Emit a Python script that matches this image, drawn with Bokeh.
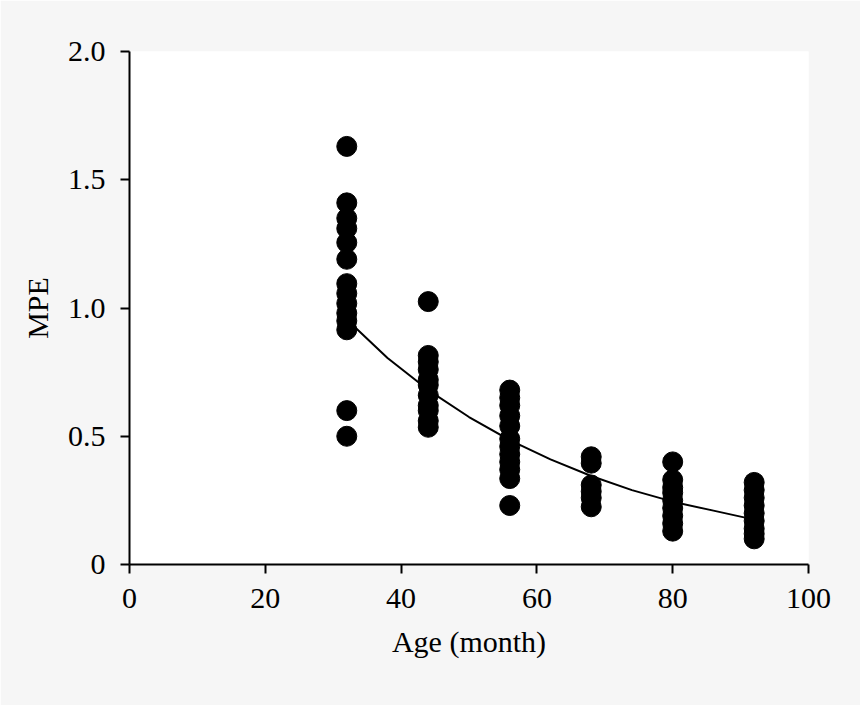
from bokeh.plotting import figure
from bokeh.models import Range1d, FixedTicker, ColumnDataSource
from bokeh.embed import file_html
from bokeh.resources import INLINE

# Scatter data: age (month) and MPE values
age_32 = [1.63, 1.41, 1.35, 1.31, 1.255, 1.19, 1.095, 1.057, 1.018, 0.98, 0.95, 0.915, 0.60, 0.50]
age_44 = [1.025, 0.815, 0.79, 0.76, 0.72, 0.70, 0.66, 0.62, 0.60, 0.56, 0.535]
age_56 = [0.68, 0.65, 0.62, 0.58, 0.54, 0.49, 0.46, 0.43, 0.40, 0.37, 0.335, 0.23]
age_68 = [0.42, 0.395, 0.31, 0.285, 0.26, 0.225]
age_80 = [0.40, 0.33, 0.30, 0.28, 0.25, 0.22, 0.19, 0.16, 0.13]
age_92 = [0.32, 0.29, 0.26, 0.23, 0.20, 0.17, 0.14, 0.12, 0.10]
groups = [(32, age_32), (44, age_44), (56, age_56), (68, age_68), (80, age_80), (92, age_92)]

# Fitted trend curve
curve_x = [32, 38, 44, 50, 56, 62, 68, 74, 80, 86, 92]
curve_y = [0.955, 0.805, 0.68, 0.575, 0.485, 0.41, 0.345, 0.29, 0.245, 0.21, 0.175]

x_ticks = [0, 20, 40, 60, 80, 100]
y_ticks = [0, 0.5, 1.0, 1.5, 2.0]
y_tick_labels = {0: "0", 0.5: "0.5", 1.0: "1.0", 1.5: "1.5", 2.0: "2.0"}

xs, ys = [], []
for a, vals in groups:
    xs += [a] * len(vals)
    ys += vals
src = ColumnDataSource(data=dict(x=xs, y=ys))

BG = "#f6f6f6"
FONT = "Liberation Serif"
FS = "30px"

p = figure(width=860, height=705, output_backend="svg", toolbar_location=None,
           x_range=Range1d(0, 100), y_range=Range1d(0, 2.0),
           min_border_left=129, min_border_top=51, min_border_right=52, min_border_bottom=141)
p.background_fill_color = "white"
p.border_fill_color = BG
p.outline_line_color = None
p.grid.visible = False

p.line(curve_x, curve_y, line_color="black", line_width=2)
p.scatter("x", "y", source=src, size=20, fill_color="black", line_color="black")

for ax in (p.xaxis[0], p.yaxis[0]):
    ax.axis_line_color = "black"
    ax.axis_line_width = 2
    ax.major_tick_line_width = 2
    ax.major_tick_line_color = "black"
    ax.major_tick_in = 0
    ax.major_tick_out = 9
    ax.minor_tick_line_color = None
    ax.major_label_text_font = FONT
    ax.major_label_text_font_size = FS
    ax.major_label_text_color = "black"
    ax.axis_label_text_font = FONT
    ax.axis_label_text_font_size = FS
    ax.axis_label_text_font_style = "normal"
    ax.axis_label_text_color = "black"

p.xaxis.ticker = FixedTicker(ticks=x_ticks)
p.yaxis.ticker = FixedTicker(ticks=y_ticks)
p.yaxis.major_label_overrides = y_tick_labels
p.xaxis.axis_label = "Age (month)"
p.yaxis.axis_label = "MPE"
p.xaxis.major_label_standoff = 15
p.yaxis.major_label_standoff = 15
p.xaxis.axis_label_standoff = 14
p.yaxis.axis_label_standoff = 11

open("out.html", "w").write(file_html(p, INLINE, title="MPE vs Age"))
